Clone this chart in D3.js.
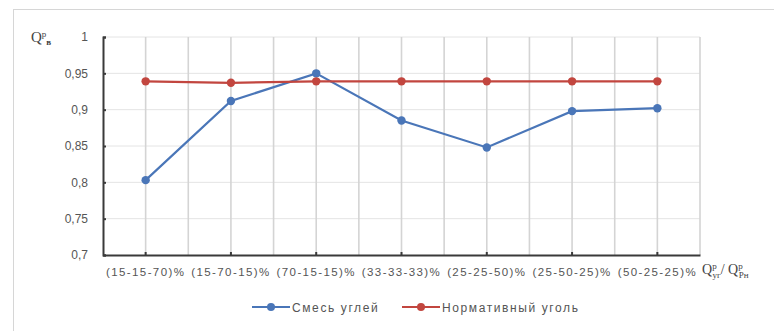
<!DOCTYPE html>
<html><head><meta charset="utf-8">
<script src="https://cdn.jsdelivr.net/npm/d3@7"></script>
<style>body{margin:0;background:#fff;} svg{display:block;}</style>
</head><body>
<svg id="c" width="774" height="331"></svg>
<script>
const categories = ["(15-15-70)%","(15-70-15)%","(70-15-15)%","(33-33-33)%","(25-25-50)%","(25-50-25)%","(50-25-25)%"];
const mixValues = [0.803, 0.912, 0.950, 0.885, 0.848, 0.898, 0.902];
const normValues = [0.939, 0.937, 0.939, 0.939, 0.939, 0.939, 0.939];
const yTicks = [0.7, 0.75, 0.8, 0.85, 0.9, 0.95, 1];
const seriesNames = ["Смесь углей", "Нормативный уголь"];
const colors = ["#4a76b8", "#c2463f"];

const svg = d3.select("#c");
const font = "'Liberation Sans', Arial, sans-serif";
// outer frame
svg.append("rect").attr("x",13.5).attr("y",9.5).attr("width",790).attr("height",340)
  .attr("fill","#fff").attr("stroke","#d6d6d6");

const x = d3.scaleBand().domain(categories).range([103, 700]);
const y = d3.scaleLinear().domain([0.7, 1]).range([255, 37]);

// horizontal grid
svg.append("g").selectAll("line").data(yTicks.slice(1)).join("line")
  .attr("x1",103).attr("x2",700).attr("y1",d=>y(d)).attr("y2",d=>y(d))
  .attr("stroke","#e4e4e4").attr("stroke-width",1);
// vertical grid at band edges and centers
const vx = [];
categories.forEach(c=>{ vx.push(x(c)+x.bandwidth()/2); vx.push(x(c)+x.bandwidth()); });
svg.append("g").selectAll("line").data(vx).join("line")
  .attr("x1",d=>d).attr("x2",d=>d).attr("y1",37).attr("y2",255)
  .attr("stroke","#d4d4d4").attr("stroke-width",1.6);

// y axis
const ya = svg.append("g").attr("transform","translate(103,0)")
  .call(d3.axisRight(y).tickValues(yTicks).tickSize(3).tickFormat(d=>d3.format(".2~f")(d).replace(".",",")));
ya.select(".domain").attr("stroke","#3a3a3a").attr("stroke-width",2);
ya.selectAll(".tick line").attr("stroke","#3a3a3a").attr("stroke-width",2);
ya.selectAll("text").attr("x",-15).attr("text-anchor","end").attr("fill","#555")
  .attr("font-family",font).attr("font-size",12);

// x axis
const xa = svg.append("g").attr("transform","translate(0,255)")
  .call(d3.axisBottom(x).tickSize(3).tickSizeOuter(0));
xa.select(".domain").attr("stroke","#3a3a3a").attr("stroke-width",2);
xa.selectAll(".tick line").attr("stroke","#3a3a3a").attr("stroke-width",2).attr("y2",-3);
xa.selectAll("text").attr("y",13).attr("fill","#555").attr("font-family",font)
  .attr("font-size",11.5).attr("letter-spacing","1.4px");

// lines
const line = d3.line().x((d,i)=>x(categories[i])+x.bandwidth()/2).y(d=>y(d));
[mixValues, normValues].forEach((vals,k)=>{
  svg.append("path").datum(vals).attr("d",line).attr("fill","none")
    .attr("stroke",colors[k]).attr("stroke-width",2.2);
  svg.append("g").selectAll("circle").data(vals).join("circle")
    .attr("cx",(d,i)=>x(categories[i])+x.bandwidth()/2).attr("cy",d=>y(d)).attr("r",4.2)
    .attr("fill",colors[k]);
});

// y title
const yt = svg.append("text").attr("x",31).attr("y",42).attr("font-family","'Liberation Serif', serif")
  .attr("font-size",15).attr("fill","#444");
yt.append("tspan").text("Q");
yt.append("tspan").attr("font-size",9).attr("dy",-5).text("р");
yt.append("tspan").attr("font-size",9).attr("dy",8).attr("font-weight","bold").text("в");

// x title
const xt = svg.append("text").attr("x",702).attr("y",274).attr("font-family","'Liberation Serif', serif")
  .attr("font-size",14).attr("fill","#444");
xt.append("tspan").text("Q");
xt.append("tspan").attr("font-size",9).attr("dy",-5).text("р");
xt.append("tspan").attr("font-size",9).attr("dy",9).attr("dx",-4).text("уг");
xt.append("tspan").attr("dy",-4).text("/ Q");
xt.append("tspan").attr("font-size",9).attr("dy",-5).text("р");
xt.append("tspan").attr("font-size",9).attr("dy",9).attr("dx",-4).text("Рн");

// legend
const lg = [{x:252, t:seriesNames[0], c:colors[0]},{x:402, t:seriesNames[1], c:colors[1]}];
lg.forEach(l=>{
  svg.append("line").attr("x1",l.x).attr("x2",l.x+38).attr("y1",307).attr("y2",307)
    .attr("stroke",l.c).attr("stroke-width",2.2);
  svg.append("circle").attr("cx",l.x+19).attr("cy",307).attr("r",4).attr("fill",l.c);
  svg.append("text").attr("x",l.x+40).attr("y",311.5).attr("font-family",font)
    .attr("font-size",12).attr("letter-spacing","1.6px").attr("fill","#555").text(l.t);
});
</script>
</body></html>
